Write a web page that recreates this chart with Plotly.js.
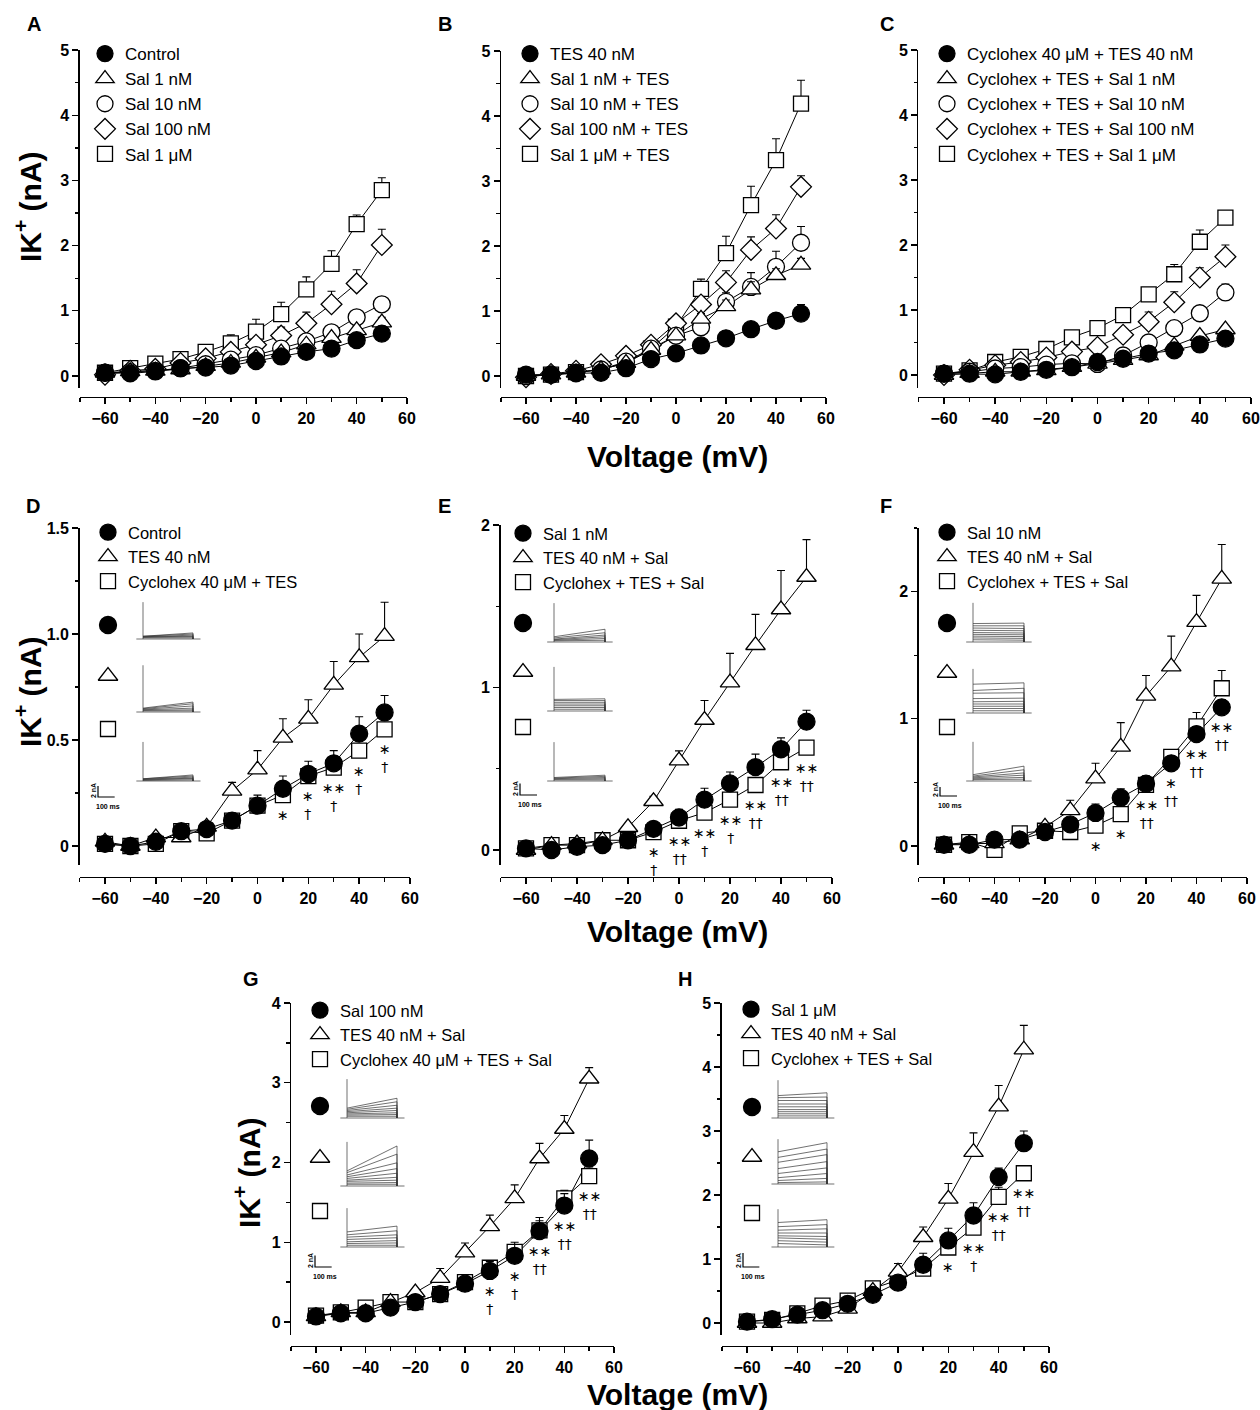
<!DOCTYPE html>
<html><head><meta charset="utf-8">
<script src="https://cdn.plot.ly/plotly-3.0.1.min.js"></script>
<style>body{margin:0;background:#fff}#chart{width:1260px;height:1410px}</style>
</head><body><div id="chart"></div>
<script>
// ---------------- DATA ----------------
const voltage = [-60,-50,-40,-30,-20,-10,0,10,20,30,40,50];

// Panel A
const aControl    = [0.05,0.04,0.07,0.12,0.13,0.16,0.23,0.30,0.37,0.42,0.55,0.65];
const aControlErr = [0.01,0.01,0.01,0.01,0.02,0.02,0.03,0.03,0.04,0.04,0.05,0.06];
const aSal1n      = [0.05,0.07,0.08,0.10,0.15,0.20,0.28,0.36,0.48,0.58,0.70,0.82];
const aSal1nErr   = [0.01,0.01,0.02,0.02,0.03,0.03,0.04,0.05,0.05,0.06,0.07,0.08];
const aSal10n     = [0.05,0.06,0.08,0.12,0.18,0.25,0.32,0.42,0.53,0.67,0.90,1.10];
const aSal10nErr  = [0.01,0.01,0.02,0.02,0.03,0.04,0.05,0.06,0.07,0.08,0.10,0.12];
const aSal100n    = [0.02,0.08,0.11,0.20,0.27,0.37,0.48,0.62,0.81,1.10,1.42,2.01];
const aSal100nErr = [0.01,0.02,0.02,0.03,0.04,0.05,0.08,0.13,0.17,0.20,0.21,0.24];
const aSal1u      = [0.05,0.12,0.19,0.26,0.37,0.50,0.68,0.95,1.33,1.72,2.33,2.85];
const aSal1uErr   = [0.01,0.02,0.03,0.04,0.07,0.13,0.19,0.18,0.19,0.20,0.14,0.19];

// Panel B
const bTes        = [0.02,0.02,0.04,0.05,0.12,0.26,0.35,0.47,0.58,0.72,0.85,0.96];
const bTesErr     = [0.01,0.01,0.01,0.01,0.02,0.02,0.03,0.03,0.04,0.05,0.06,0.14];
const bSal1n      = [0.00,0.02,0.05,0.10,0.20,0.40,0.62,0.88,1.07,1.33,1.55,1.71];
const bSal1nErr   = [0.01,0.01,0.01,0.02,0.03,0.04,0.06,0.08,0.10,0.12,0.10,0.10];
const bSal10n     = [0.00,0.02,0.05,0.10,0.22,0.42,0.62,0.75,1.14,1.37,1.68,2.05];
const bSal10nErr  = [0.01,0.01,0.01,0.02,0.03,0.04,0.06,0.08,0.14,0.22,0.24,0.25];
const bSal100n    = [-0.02,0.03,0.08,0.18,0.31,0.48,0.81,1.10,1.44,1.94,2.27,2.91];
const bSal100nErr = [0.01,0.01,0.02,0.03,0.04,0.05,0.06,0.08,0.18,0.20,0.21,0.17];
const bSal1u      = [0.00,0.02,0.06,0.10,0.20,0.42,0.76,1.34,1.89,2.63,3.32,4.19];
const bSal1uErr   = [0.01,0.01,0.02,0.02,0.03,0.05,0.07,0.15,0.26,0.29,0.33,0.36];

// Panel C
const cCyc        = [0.02,0.02,0.01,0.05,0.08,0.12,0.20,0.25,0.33,0.38,0.47,0.56];
const cCycErr     = [0.01,0.01,0.01,0.01,0.02,0.02,0.02,0.03,0.03,0.03,0.04,0.04];
const cSal1n      = [0.00,0.03,0.05,0.05,0.07,0.12,0.17,0.23,0.30,0.45,0.60,0.70];
const cSal1nErr   = [0.01,0.01,0.01,0.01,0.02,0.02,0.03,0.03,0.04,0.04,0.05,0.05];
const cSal10n     = [0.02,0.05,0.10,0.12,0.16,0.18,0.17,0.30,0.50,0.72,0.95,1.27];
const cSal10nErr  = [0.01,0.01,0.01,0.02,0.02,0.03,0.03,0.04,0.05,0.06,0.08,0.13];
const cSal100n    = [0.00,0.08,0.15,0.20,0.27,0.36,0.43,0.62,0.82,1.12,1.50,1.82];
const cSal100nErr = [0.01,0.01,0.02,0.02,0.03,0.03,0.04,0.05,0.15,0.16,0.15,0.18];
const cSal1u      = [0.02,0.07,0.20,0.28,0.40,0.58,0.72,0.92,1.24,1.55,2.05,2.42];
const cSal1uErr   = [0.01,0.01,0.02,0.02,0.03,0.03,0.04,0.05,0.10,0.15,0.18,0.05];

// Panel D
const dControl    = [0.01,0.00,0.02,0.07,0.08,0.12,0.19,0.27,0.34,0.39,0.53,0.63];
const dControlErr = [0.005,0.005,0.01,0.01,0.01,0.03,0.05,0.06,0.06,0.06,0.08,0.08];
const dTes        = [0.02,0.00,0.04,0.04,0.09,0.26,0.36,0.51,0.60,0.76,0.89,0.99];
const dTesErr     = [0.01,0.01,0.01,0.01,0.02,0.04,0.09,0.09,0.09,0.11,0.11,0.16];
const dCyc        = [0.01,0.00,0.01,0.07,0.06,0.12,0.19,0.24,0.33,0.37,0.45,0.55];
const dCycErr     = [0.005,0.005,0.01,0.01,0.01,0.02,0.02,0.02,0.03,0.03,0.03,0.03];
const dSig = ['','','','','','','','∗','∗<br>†','∗∗<br>†','∗<br>†','∗<br>†'];

// Panel E
const eSal        = [0.01,0.00,0.02,0.03,0.06,0.13,0.20,0.31,0.41,0.51,0.62,0.79];
const eSalErr     = [0.005,0.005,0.01,0.01,0.01,0.02,0.05,0.07,0.07,0.08,0.07,0.07];
const eTes        = [0.00,0.03,0.04,0.06,0.14,0.30,0.55,0.80,1.03,1.26,1.48,1.68];
const eTesErr     = [0.005,0.01,0.01,0.01,0.02,0.03,0.06,0.12,0.18,0.19,0.24,0.23];
const eCyc        = [0.01,0.03,0.03,0.06,0.06,0.11,0.18,0.23,0.31,0.40,0.54,0.63];
const eCycErr     = [0.005,0.01,0.01,0.01,0.01,0.01,0.02,0.02,0.02,0.03,0.03,0.03];
const eSig = ['','','','','','∗<br>†','∗∗<br>††','∗∗<br>†','∗∗<br>†','∗∗<br>††','∗∗<br>††','∗∗<br>††'];

// Panel F
const fSal        = [0.01,0.01,0.05,0.05,0.11,0.17,0.26,0.38,0.49,0.65,0.88,1.09];
const fSalErr     = [0.005,0.005,0.01,0.01,0.01,0.02,0.07,0.07,0.06,0.05,0.06,0.06];
const fTes        = [0.01,0.02,0.02,0.05,0.15,0.28,0.53,0.78,1.18,1.41,1.76,2.10];
const fTesErr     = [0.005,0.01,0.01,0.01,0.02,0.08,0.12,0.19,0.16,0.24,0.21,0.27];
const fCyc        = [0.01,0.03,-0.03,0.10,0.12,0.11,0.16,0.25,0.48,0.70,0.94,1.24];
const fCycErr     = [0.005,0.01,0.01,0.01,0.01,0.01,0.02,0.02,0.03,0.05,0.11,0.14];
const fSig = ['','','','','','','∗','∗','∗∗<br>††','∗<br>††','∗∗<br>††','∗∗<br>††'];

// Panel G
const gSal        = [0.07,0.11,0.11,0.18,0.25,0.35,0.48,0.64,0.83,1.14,1.46,2.05];
const gSalErr     = [0.01,0.01,0.01,0.02,0.02,0.03,0.08,0.12,0.17,0.17,0.15,0.23];
const gTes        = [0.07,0.12,0.12,0.25,0.37,0.55,0.87,1.20,1.55,2.05,2.42,3.05];
const gTesErr     = [0.01,0.01,0.02,0.02,0.03,0.12,0.12,0.14,0.17,0.19,0.17,0.14];
const gCyc        = [0.08,0.12,0.18,0.25,0.25,0.35,0.50,0.68,0.88,1.15,1.55,1.83];
const gCycErr     = [0.01,0.01,0.02,0.02,0.02,0.03,0.04,0.06,0.08,0.12,0.10,0.10];
const gSig = ['','','','','','','','∗<br>†','∗<br>†','∗∗<br>††','∗∗<br>††','∗∗<br>††'];

// Panel H
const hSal        = [0.02,0.06,0.13,0.20,0.30,0.44,0.63,0.91,1.29,1.68,2.28,2.81];
const hSalErr     = [0.01,0.01,0.01,0.02,0.02,0.03,0.04,0.18,0.19,0.20,0.14,0.19];
const hTes        = [0.00,0.00,0.07,0.10,0.22,0.50,0.80,1.34,1.94,2.67,3.38,4.27];
const hTesErr     = [0.01,0.01,0.01,0.02,0.03,0.04,0.13,0.16,0.24,0.30,0.33,0.38];
const hCyc        = [0.02,0.05,0.15,0.27,0.35,0.54,0.67,0.85,1.18,1.49,1.97,2.34];
const hCycErr     = [0.01,0.01,0.02,0.02,0.03,0.04,0.05,0.06,0.08,0.10,0.15,0.06];
const hSig = ['','','','','','','','','∗','∗∗<br>†','∗∗<br>††','∗∗<br>††'];

// Inset current traces (nA; sweep level at start and end of the 300 ms step)
const dInsSpike = [6.7,8.5,7.1];
const dInsCtrlStart = [0.2,0.3,0.4,0.4,0.5,0.5], dInsCtrlEnd = [0.2,0.4,0.5,0.7,0.9,1.1];
const dInsTesStart  = [0.2,0.3,0.4,0.5,0.6,0.7], dInsTesEnd  = [0.2,0.4,0.7,1.1,1.5,1.8];
const dInsCycStart  = [0.1,0.2,0.3,0.3,0.4,0.4], dInsCycEnd  = [0.2,0.4,0.5,0.7,0.9,1.1];
const eInsSpike = [6.7,7.6,6.7];
const eInsSalStart = [0.2,0.3,0.4,0.5,0.7,0.9],     eInsSalEnd = [0.3,0.6,0.9,1.2,1.6,2.2];
const eInsTesStart = [0.3,0.6,0.9,1.2,1.5,1.8,2.0], eInsTesEnd = [0.3,0.6,0.9,1.2,1.5,1.8,2.1];
const eInsCycStart = [0.2,0.3,0.4,0.5,0.6],         eInsCycEnd = [0.2,0.4,0.6,0.8,1.0];
const fInsSpike = [8.7,9.8,8.7];
const fInsSalStart = [0.5,0.9,1.3,1.7,2.1,2.6,3.1,3.6,4.1], fInsSalEnd = [0.4,0.8,1.2,1.6,2.0,2.5,3.0,3.6,4.2];
const fInsTesStart = [0.5,1.0,1.5,2.0,2.5,3.2,4.4,5.0,6.4], fInsTesEnd = [0.5,1.0,1.5,2.0,2.6,3.3,4.5,5.5,6.7];
const fInsCycStart = [0.3,0.5,0.7,0.9,1.1,1.4],             fInsCycEnd = [0.4,0.8,1.3,1.8,2.5,3.3];
const gInsSpike = [6.7,7.6,6.7];
const gInsSalStart = [0.3,0.5,0.7,0.9,1.1,1.3,1.5,1.7],     gInsSalEnd = [0.3,0.6,0.9,1.3,1.7,2.2,2.8,3.4];
const gInsTesStart = [0.3,0.5,0.8,1.0,1.3,1.6,1.9,2.3,2.6], gInsTesEnd = [0.3,0.6,1.0,1.5,2.2,3.0,4.0,5.5,6.9];
const gInsCycStart = [0.3,0.6,0.9,1.3,1.7,2.1,2.6],         gInsCycEnd = [0.3,0.7,1.1,1.6,2.1,2.8,3.6];
const hInsSpike = [5.4,6.4,5.4];
const hInsSalStart = [0.3,0.6,0.9,1.2,1.6,2.0,2.5,2.9,3.2], hInsSalEnd = [0.3,0.6,0.9,1.2,1.6,2.0,2.5,3.0,3.6];
const hInsTesStart = [0.2,0.5,0.9,1.5,2.2,3.1,3.8,4.6],     hInsTesEnd = [0.3,0.8,1.5,2.3,3.2,4.2,5.0,5.9];
const hInsCycStart = [0.5,0.9,1.3,1.6,2.0,2.4,2.9,3.5],     hInsCycEnd = [0.3,0.7,1.1,1.5,2.0,2.6,3.2,3.9];
const scaleBarNA = 2, scaleBarMs = 100, stepMs = 300;

// ---------------- STYLE / LAYOUT ----------------
const W = 1260, H = 1410;
const px = v => v / W, py = v => 1 - v / H;
const FONT = 'Liberation Sans, Arial, DejaVu Sans, sans-serif';
const SIGFONT = 'DejaVu Sans, sans-serif';
const SYM = {
  filled: {symbol:'circle', color:'black', size:17},
  tri:    {symbol:'triangle-up', color:'white', size:17},
  circ:   {symbol:'circle', color:'white', size:17},
  dia:    {symbol:'diamond', color:'white', size:16},
  sq:     {symbol:'square', color:'white', size:15}
};

const panels = [
  {letter:'A', lp:[34,24], xL:105, xR:407, y0:376, yTopPx:50, yTop:5, yBotPx:388, axisY:397, dtick:1, minor:0.5, leg:[105,53], lfs:17,
   series:[['Control',aControl,aControlErr,'filled'],['Sal 1 nM',aSal1n,aSal1nErr,'tri'],['Sal 10 nM',aSal10n,aSal10nErr,'circ'],['Sal 100 nM',aSal100n,aSal100nErr,'dia'],['Sal 1 μM',aSal1u,aSal1uErr,'sq']]},
  {letter:'B', lp:[445,24], xL:526, xR:826, y0:376, yTopPx:51, yTop:5, yBotPx:388, axisY:397, dtick:1, minor:0.5, leg:[530,53], lfs:17,
   series:[['TES 40 nM',bTes,bTesErr,'filled'],['Sal 1 nM + TES',bSal1n,bSal1nErr,'tri'],['Sal 10 nM + TES',bSal10n,bSal10nErr,'circ'],['Sal 100 nM + TES',bSal100n,bSal100nErr,'dia'],['Sal 1 μM + TES',bSal1u,bSal1uErr,'sq']]},
  {letter:'C', lp:[887,24], xL:944, xR:1251, y0:375, yTopPx:50, yTop:5, yBotPx:388, axisY:397, dtick:1, minor:0.5, leg:[947,53], lfs:17,
   series:[['Cyclohex 40 μM + TES 40 nM',cCyc,cCycErr,'filled'],['Cyclohex + TES + Sal 1 nM',cSal1n,cSal1nErr,'tri'],['Cyclohex + TES + Sal 10 nM',cSal10n,cSal10nErr,'circ'],['Cyclohex + TES + Sal 100 nM',cSal100n,cSal100nErr,'dia'],['Cyclohex + TES + Sal 1 μM',cSal1u,cSal1uErr,'sq']]},
  {letter:'D', lp:[33,506], xL:105, xR:410, y0:846, yTopPx:528, yTop:1.5, yBotPx:865, axisY:877, tickvals:[0,0.5,1,1.5], ticktext:['0','0.5','1.0','1.5'], minor:0.25, leg:[108,532], lfs:16.5, sig:dSig,
   series:[['Control',dControl,dControlErr,'filled'],['TES 40 nM',dTes,dTesErr,'tri'],['Cyclohex 40 μM + TES',dCyc,dCycErr,'sq']]},
  {letter:'E', lp:[444,506], xL:526, xR:832, y0:850, yTopPx:525, yTop:2, yBotPx:865, axisY:877, dtick:1, minor:0.5, leg:[523,533], lfs:16.5, sig:eSig,
   series:[['Sal 1 nM',eSal,eSalErr,'filled'],['TES 40 nM + Sal',eTes,eTesErr,'tri'],['Cyclohex + TES + Sal',eCyc,eCycErr,'sq']]},
  {letter:'F', lp:[886,506], xL:944, xR:1247, y0:846, yTopPx:528, yTop:2.5, yBotPx:865, axisY:877, dtick:1, minor:0.5, leg:[947,532], lfs:16.5, sig:fSig,
   series:[['Sal 10 nM',fSal,fSalErr,'filled'],['TES 40 nM + Sal',fTes,fTesErr,'tri'],['Cyclohex + TES + Sal',fCyc,fCycErr,'sq']]},
  {letter:'G', lp:[251,979], xL:316, xR:614, y0:1322, yTopPx:1003, yTop:4, yBotPx:1335, axisY:1346, dtick:1, minor:0.5, leg:[320,1010], lfs:16.5, sig:gSig,
   series:[['Sal 100 nM',gSal,gSalErr,'filled'],['TES 40 nM + Sal',gTes,gTesErr,'tri'],['Cyclohex 40 μM + TES + Sal',gCyc,gCycErr,'sq']]},
  {letter:'H', lp:[685,979], xL:747, xR:1049, y0:1323, yTopPx:1003, yTop:5, yBotPx:1335, axisY:1346, dtick:1, minor:0.5, leg:[751,1009], lfs:16.5, sig:hSig,
   series:[['Sal 1 μM',hSal,hSalErr,'filled'],['TES 40 nM + Sal',hTes,hTesErr,'tri'],['Cyclohex + TES + Sal',hCyc,hCycErr,'sq']]}
];

const insets = [
  {panel:3, spikeX:143, endX:193, markerX:108, markerY:[625,676,729], base:[639,712,781], ppn:5.5, barX:98,  barBottom:797, spike:dInsSpike,
   groups:[[dInsCtrlStart,dInsCtrlEnd,'filled'],[dInsTesStart,dInsTesEnd,'tri'],[dInsCycStart,dInsCycEnd,'sq']]},
  {panel:4, spikeX:554, endX:605, markerX:523, markerY:[623,672,727], base:[642,711,781], ppn:5.8, barX:520, barBottom:795, spike:eInsSpike,
   groups:[[eInsSalStart,eInsSalEnd,'filled'],[eInsTesStart,eInsTesEnd,'tri'],[eInsCycStart,eInsCycEnd,'sq']]},
  {panel:5, spikeX:973, endX:1024, markerX:947, markerY:[623,673,727], base:[642,713,781], ppn:4.5, barX:940, barBottom:796, spike:fInsSpike,
   groups:[[fInsSalStart,fInsSalEnd,'filled'],[fInsTesStart,fInsTesEnd,'tri'],[fInsCycStart,fInsCycEnd,'sq']]},
  {panel:6, spikeX:347, endX:397, markerX:320, markerY:[1106,1158,1211], base:[1118,1186,1247], ppn:5.8, barX:315, barBottom:1267, spike:gInsSpike,
   groups:[[gInsSalStart,gInsSalEnd,'filled'],[gInsTesStart,gInsTesEnd,'tri'],[gInsCycStart,gInsCycEnd,'sq']]},
  {panel:7, spikeX:778, endX:827, markerX:752, markerY:[1107,1157,1213], base:[1118,1184,1247], ppn:7, barX:743, barBottom:1267, spike:hInsSpike,
   groups:[[hInsSalStart,hInsSalEnd,'filled'],[hInsTesStart,hInsTesEnd,'tri'],[hInsCycStart,hInsCycEnd,'sq']]}
];

const traces = [];
const layout = {
  width: W, height: H, margin:{l:0,r:0,t:0,b:0},
  paper_bgcolor:'white', plot_bgcolor:'rgba(0,0,0,0)',
  font:{family:FONT, color:'black'}, showlegend:true, annotations:[]
};
const ann = layout.annotations;

panels.forEach((p, k) => {
  const n = k + 1, sfx = n === 1 ? '' : String(n);
  const xa = 'x' + sfx, ya = 'y' + sfx, lg = 'legend' + sfx;
  const ppn = (p.y0 - p.yTopPx) / p.yTop;
  const yBot = -(p.yBotPx - p.y0) / ppn;
  const step = (p.xR - p.xL) / 12;
  layout['xaxis' + sfx] = {
    domain:[px(p.xL - step), px(p.xR)], range:[-70, 60], anchor:'free', position: py(p.axisY),
    showline:true, linecolor:'black', linewidth:1.4, zeroline:false, showgrid:false,
    ticks:'outside', ticklen:6, tickwidth:1.4, tickcolor:'black', tickmode:'linear', tick0:0, dtick:20,
    minor:{ticks:'outside', ticklen:3.5, tickwidth:1.4, tickcolor:'black', tickmode:'linear', tick0:0, dtick:10, showgrid:false},
    tickfont:{family:FONT, size:16, weight:'bold', color:'black'}, fixedrange:true
  };
  const yax = {
    domain:[py(p.yBotPx), py(p.yTopPx)], range:[yBot, p.yTop], anchor:xa,
    showline:true, linecolor:'black', linewidth:1.4, zeroline:false, showgrid:false,
    ticks:'outside', ticklen:6, tickwidth:1.4, tickcolor:'black',
    minor:{ticks:'outside', ticklen:3.5, tickwidth:1.4, tickcolor:'black', tickmode:'linear', tick0:0, dtick:p.minor, showgrid:false},
    tickfont:{family:FONT, size:16, weight:'bold', color:'black'}, fixedrange:true
  };
  if (p.tickvals) { yax.tickmode = 'array'; yax.tickvals = p.tickvals; yax.ticktext = p.ticktext; }
  else { yax.tickmode = 'linear'; yax.tick0 = 0; yax.dtick = p.dtick; }
  layout['yaxis' + sfx] = yax;

  // connecting lines first (under all markers)
  p.series.forEach(s => traces.push({type:'scatter', mode:'lines', x:voltage, y:s[1], xaxis:xa, yaxis:ya,
    line:{color:'black', width:1}, showlegend:false, hoverinfo:'skip', cliponaxis:false}));
  // markers: first-listed series drawn last (on top)
  p.series.map((s, i) => [s, i]).reverse().forEach(([s, i]) => {
    const st = SYM[s[3]];
    traces.push({type:'scatter', mode:'markers', name:s[0], x:voltage, y:s[1], xaxis:xa, yaxis:ya,
      legend:lg, legendrank:i + 1, cliponaxis:false,
      marker:{symbol:st.symbol, size:st.size, color:st.color, line:{color:'black', width:1.3}},
      error_y:{type:'data', symmetric:false, array:s[2], arrayminus:[], color:'black', thickness:1.1, width:4}});
  });
  layout[lg] = {x:px(p.leg[0] - 20), y:py(p.leg[1] - 17), xanchor:'left', yanchor:'top',
    bgcolor:'rgba(0,0,0,0)', borderwidth:0, tracegroupgap:0, traceorder:'normal',
    font:{family:FONT, size:p.lfs, color:'black'}};
  ann.push({xref:'paper', yref:'paper', x:px(p.lp[0]), y:py(p.lp[1]), text:p.letter, showarrow:false,
    xanchor:'center', yanchor:'middle', font:{family:FONT, size:20, weight:'bold', color:'black'}});
  if (p.sig) {
    const lo = p.series[0][1], sq = p.series[2][1];
    p.sig.forEach((t, i) => {
      if (!t) return;
      ann.push({xref:xa, yref:ya, x:voltage[i], y:Math.min(lo[i], sq[i]), text:t, showarrow:false,
        xanchor:'center', yanchor:'top', yshift:-10, font:{family:SIGFONT, size:14, color:'black'}});
    });
  }
});

// insets
insets.forEach((ins, k) => {
  const xn = 9 + k, xa = 'x' + xn;
  const pxPerMs = (ins.endX - ins.spikeX) / stepMs;
  const left = Math.min(ins.markerX, ins.barX) - 14, right = ins.endX + 16;
  layout['xaxis' + xn] = {domain:[px(left), px(right)], range:[(left - ins.spikeX) / pxPerMs, (right - ins.spikeX) / pxPerMs],
    visible:false, anchor:'y' + (9 + 3 * k), fixedrange:true};
  ins.groups.forEach((g, gi) => {
    const yn = 9 + 3 * k + gi, ya = 'y' + yn;
    const topPx = ins.base[gi] - 62;
    const botPx = gi === 2 ? ins.barBottom + 4 : ins.base[gi] + 8;
    layout['yaxis' + yn] = {domain:[py(botPx), py(topPx)], range:[-(botPx - ins.base[gi]) / ins.ppn, (ins.base[gi] - topPx) / ins.ppn],
      visible:false, anchor:xa, fixedrange:true};
    // holding baseline, capacitive spike and the family of sweeps
    const xs = [-40, stepMs + 45, null, 0, 0, null], ys = [0, 0, null, 0, ins.spike[gi], null];
    g[0].forEach((s, j) => { xs.push(0, stepMs, stepMs, null); ys.push(s, g[1][j], 0, null); });
    traces.push({type:'scatter', mode:'lines', x:xs, y:ys, xaxis:xa, yaxis:ya, showlegend:false, hoverinfo:'skip',
      line:{color:'#333', width:0.7}, connectgaps:false});
    const st = SYM[g[2]];
    traces.push({type:'scatter', mode:'markers', x:[(ins.markerX - ins.spikeX) / pxPerMs], y:[(ins.base[gi] - ins.markerY[gi]) / ins.ppn],
      xaxis:xa, yaxis:ya, showlegend:false, hoverinfo:'skip', cliponaxis:false,
      marker:{symbol:st.symbol, size:st.size, color:st.color, line:{color:'black', width:1.3}}});
    if (gi === 2) {
      const bx = (ins.barX - ins.spikeX) / pxPerMs, by = -(ins.barBottom - ins.base[gi]) / ins.ppn;
      traces.push({type:'scatter', mode:'lines', x:[bx, bx, bx + scaleBarMs], y:[by + scaleBarNA, by, by], xaxis:xa, yaxis:ya,
        showlegend:false, hoverinfo:'skip', cliponaxis:false, line:{color:'black', width:1.2}});
    }
  });
  ann.push({xref:'paper', yref:'paper', x:px(ins.barX - 5), y:py(ins.barBottom - 6), text:'2 nA', textangle:-90, showarrow:false,
    xanchor:'center', yanchor:'middle', font:{family:FONT, size:7, weight:'bold', color:'black'}});
  ann.push({xref:'paper', yref:'paper', x:px(ins.barX + 10), y:py(ins.barBottom + 9), text:'100 ms', showarrow:false,
    xanchor:'center', yanchor:'middle', font:{family:FONT, size:7, weight:'bold', color:'black'}});
});

// axis titles
const ikTitle = [[28, 207], [28, 692], [247, 1173]];
ikTitle.forEach(([x, y]) => ann.push({xref:'paper', yref:'paper', x:px(x), y:py(y), text:'IK<sup>+</sup> (nA)', textangle:-90,
  showarrow:false, xanchor:'center', yanchor:'middle', font:{family:FONT, size:30, weight:'bold', color:'black'}}));
const vTitle = [[677, 456], [677, 931], [677, 1394]];
vTitle.forEach(([x, y]) => ann.push({xref:'paper', yref:'paper', x:px(x), y:py(y), text:'Voltage (mV)',
  showarrow:false, xanchor:'center', yanchor:'middle', font:{family:FONT, size:30, weight:'bold', color:'black'}}));

Plotly.newPlot('chart', traces, layout, {staticPlot:true, displayModeBar:false});
</script>
</body></html>
